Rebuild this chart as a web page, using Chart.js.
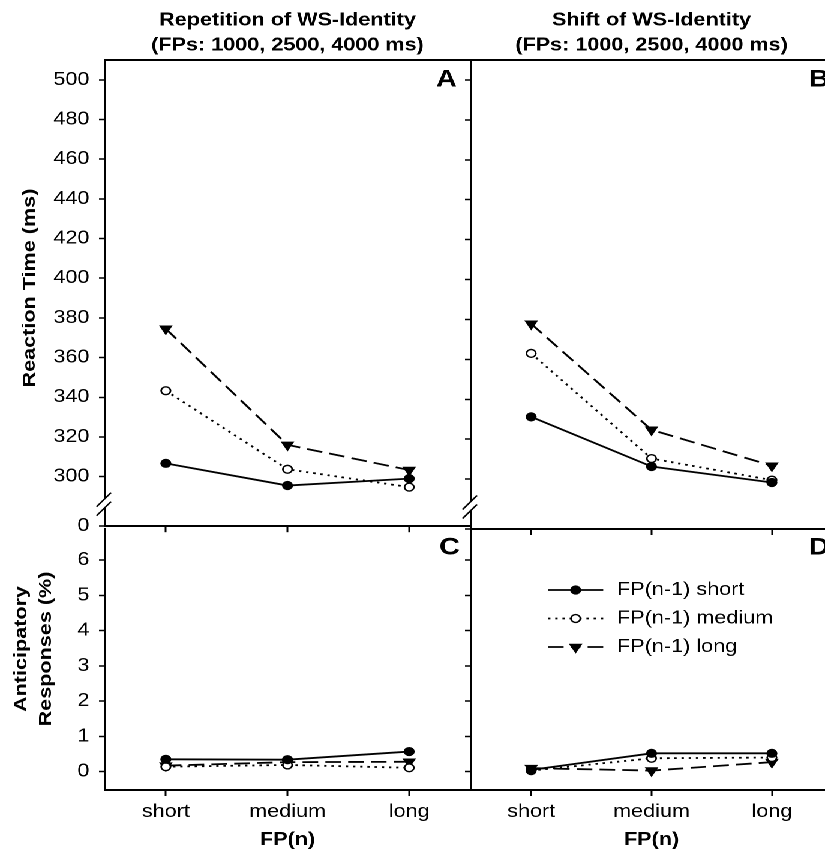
<!DOCTYPE html>
<html>
<head>
<meta charset="utf-8">
<title>Reaction time and anticipatory responses by FP</title>
<script src="https://cdn.jsdelivr.net/npm/chart.js@4.4.1/dist/chart.umd.min.js"></script>
<style>
  html, body { margin: 0; padding: 0; overflow: hidden; background: #fff; }
  /* the original figure is stretched sideways, so lay it out narrow and widen it */
  #figure { position: relative; width: 688px; height: 853px; transform: scaleX(1.2); transform-origin: 0 0; }
  #figure canvas { position: absolute; }
</style>
</head>
<body>
<div id="figure">
  <canvas id="panelA" width="400" height="545" style="left:0;top:0"></canvas>
  <canvas id="panelB" width="400" height="545" style="left:300px;top:0"></canvas>
  <canvas id="panelC" width="400" height="353" style="left:0;top:500px"></canvas>
  <canvas id="panelD" width="400" height="353" style="left:300px;top:500px"></canvas>
</div>
<script>
const fpLabels = ["short", "medium", "long"];
const seriesLabels = ["FP(n-1) short", "FP(n-1) medium", "FP(n-1) long"];

// Reaction time (ms), repetition of WS-identity
const rtRepShort = [306.7, 295.5, 299.0];
const rtRepMedium = [343.3, 303.7, 294.7];
const rtRepLong = [374.5, 316.0, 303.3];

// Reaction time (ms), shift of WS-identity
const rtShiftShort = [331.2, 306.3, 298.3];
const rtShiftMedium = [363.0, 310.3, 299.5];
const rtShiftLong = [377.8, 324.7, 306.7];

// Anticipatory responses (%), repetition of WS-identity
const arRepShort = [0.35, 0.34, 0.57];
const arRepMedium = [0.14, 0.19, 0.11];
const arRepLong = [0.17, 0.27, 0.28];

// Anticipatory responses (%), shift of WS-identity
const arShiftShort = [0.05, 0.52, 0.52];
const arShiftMedium = [0.03, 0.38, 0.40];
const arShiftLong = [0.10, 0.03, 0.27];

// tick labels
const rtTicks = [300, 320, 340, 360, 380, 400, 420, 440, 460, 480, 500];
const rtBreakValue = 275; // RT axis is broken below 300, its bottom is labelled 0
const arTicks = [0, 1, 2, 3, 4, 5, 6];

const FONT = '"Liberation Sans", Arial, Helvetica, sans-serif';
const STRETCH = 1.2; // same as the scaleX on #figure
Chart.defaults.font.family = FONT;
Chart.defaults.color = "#000";

const seriesStyles = [
  { borderDash: [], pointStyle: "circle", pointRadius: 3.9, pointRotation: 0, pointBackgroundColor: "#000" },
  { borderDash: [2, 4], pointStyle: "circle", pointRadius: 3.9, pointRotation: 0, pointBackgroundColor: "#fff" },
  { borderDash: [13, 6], pointStyle: "triangle", pointRadius: 5.2, pointRotation: 180, pointBackgroundColor: "#000" },
];

function buildDatasets(series) {
  return series.map((data, i) => ({
    label: seriesLabels[i],
    data,
    borderColor: "#000",
    borderWidth: 1.8,
    pointBorderColor: "#000",
    pointBorderWidth: 1.4,
    pointHoverRadius: seriesStyles[i].pointRadius,
    tension: 0,
    ...seriesStyles[i],
  }));
}

// panel letters, rotated y titles, axis break marks and the legend inside panel D
const figureMarks = {
  id: "figureMarks",
  afterDraw(chart, args, opts) {
    const { ctx, chartArea: area } = chart;
    ctx.save();
    ctx.fillStyle = "#000";

    if (opts.tag) {
      ctx.font = "bold 24px " + FONT;
      ctx.textAlign = "right";
      ctx.textBaseline = "middle";
      ctx.fillText(opts.tag, area.right - opts.tagRight, area.top + opts.tagTop);
    }

    if (opts.yTitle) {
      // rotated text: stretch along the reading direction, not across it
      const t = opts.yTitle;
      ctx.font = "bold 18px " + FONT;
      ctx.textAlign = "center";
      ctx.textBaseline = "middle";
      t.lines.forEach((line, i) => {
        ctx.save();
        ctx.translate(t.x[i], area.top + t.centerY);
        ctx.rotate(-Math.PI / 2);
        ctx.scale(STRETCH, 1 / STRETCH);
        ctx.fillText(line, 0, 0);
        ctx.restore();
      });
    }

    if (opts.axisBreak) {
      const x = area.left - 1;
      const y = area.bottom - 22;
      ctx.fillStyle = "#fff";
      ctx.beginPath();
      ctx.moveTo(x - 6, y + 2.5);
      ctx.lineTo(x + 6, y - 11.5);
      ctx.lineTo(x + 6, y - 2.5);
      ctx.lineTo(x - 6, y + 11.5);
      ctx.closePath();
      ctx.fill();
      ctx.strokeStyle = "#000";
      ctx.lineWidth = 1.4;
      [-4.5, 4.5].forEach((dy) => {
        ctx.beginPath();
        ctx.moveTo(x - 6, y + dy + 7);
        ctx.lineTo(x + 6, y + dy - 7);
        ctx.stroke();
      });
    }

    if (opts.legend) {
      const lg = opts.legend;
      chart.data.datasets.forEach((ds, i) => {
        const y = area.top + lg.top + i * lg.gap;
        const x0 = area.left + lg.left;
        const xc = x0 + lg.lineLength / 2;
        const x1 = x0 + lg.lineLength;
        ctx.strokeStyle = "#000";
        ctx.lineWidth = ds.borderWidth;
        ctx.setLineDash(ds.borderDash);
        [[x0, xc], [x1, xc]].forEach(([a, b]) => {
          ctx.beginPath();
          ctx.moveTo(a, y);
          ctx.lineTo(b, y);
          ctx.stroke();
        });
        ctx.setLineDash([]);
        ctx.fillStyle = ds.pointBackgroundColor;
        ctx.lineWidth = ds.pointBorderWidth;
        Chart.helpers.drawPoint(ctx, {
          pointStyle: ds.pointStyle,
          rotation: ds.pointRotation,
          radius: ds.pointRadius,
          borderWidth: ds.pointBorderWidth,
        }, xc, y);
        ctx.fillStyle = "#000";
        ctx.font = "18px " + FONT;
        ctx.textAlign = "left";
        ctx.textBaseline = "middle";
        ctx.fillText(ds.label, area.left + lg.textLeft, y);
      });
    }
    ctx.restore();
  },
};

const tickGrid = { drawOnChartArea: false, drawTicks: true, tickLength: 5, tickColor: "#000", tickWidth: 1.5 };
const axisBorder = { display: true, color: "#000", width: 2 };

function xScales(bottomRow) {
  const scales = {
    x: {
      type: "category",
      labels: fpLabels,
      offset: true,
      grid: { ...tickGrid, tickLength: 6 },
      border: axisBorder,
      ticks: { display: bottomRow, font: { size: 18 }, padding: 5, autoSkip: false, maxRotation: 0 },
      title: {
        display: bottomRow,
        text: "FP(n)",
        font: { size: 18, weight: "bold" },
        padding: { top: 0, bottom: 2 },
      },
      afterFit: (s) => { s.height = bottomRow ? 63 : 0; },
    },
  };
  if (!bottomRow) {
    // top frame line of the upper panels
    scales.x2 = {
      type: "category",
      labels: fpLabels,
      offset: true,
      position: "top",
      grid: { display: false },
      border: axisBorder,
      ticks: { display: false },
      afterFit: (s) => { s.height = 0; },
    };
  }
  return scales;
}

function rtScale(showLabels, axisWidth) {
  return {
    type: "linear",
    min: rtBreakValue,
    max: 510,
    afterBuildTicks: (s) => { s.ticks = [rtBreakValue, ...rtTicks].map((value) => ({ value })); },
    ticks: {
      display: showLabels,
      font: { size: 18 },
      padding: 8,
      autoSkip: false,
      callback: (v) => (v === rtBreakValue ? "0" : v),
    },
    grid: tickGrid,
    border: axisBorder,
    afterFit: (s) => { s.width = axisWidth; },
  };
}

function arScale(showLabels, axisWidth) {
  return {
    type: "linear",
    min: -0.52,
    max: 6.88,
    afterBuildTicks: (s) => { s.ticks = arTicks.map((value) => ({ value })); },
    ticks: { display: showLabels, font: { size: 18 }, padding: 8, autoSkip: false },
    grid: tickGrid,
    border: axisBorder,
    afterFit: (s) => { s.width = axisWidth; },
  };
}

function makePanel(canvasId, cfg) {
  return new Chart(document.getElementById(canvasId), {
    type: "line",
    data: { labels: fpLabels, datasets: buildDatasets(cfg.series) },
    plugins: [figureMarks],
    options: {
      responsive: false,
      animation: false,
      devicePixelRatio: 2,
      layout: { padding: cfg.padding },
      scales: { ...xScales(cfg.bottomRow), y: cfg.y },
      plugins: {
        legend: { display: false },
        tooltip: { enabled: false },
        title: {
          display: !!cfg.title,
          text: cfg.title,
          fullSize: false,
          font: { size: 18, weight: "bold", lineHeight: 1.39 },
          padding: { top: 8, bottom: 2 },
        },
        figureMarks: cfg.marks,
      },
    },
  });
}

makePanel("panelA", {
  series: [rtRepShort, rtRepMedium, rtRepLong],
  title: ["Repetition of WS-Identity", "(FPs: 1000, 2500, 4000 ms)"],
  bottomRow: false,
  padding: { left: 0, right: 8.3, top: 0, bottom: 16 },
  y: rtScale(true, 87.5),
  marks: {
    tag: "A", tagRight: 11, tagTop: 20, axisBreak: true,
    yTitle: { lines: ["Reaction Time (ms)"], x: [25], centerY: 228 },
  },
});

makePanel("panelB", {
  series: [rtShiftShort, rtShiftMedium, rtShiftLong],
  title: ["Shift of WS-Identity", "(FPs: 1000, 2500, 4000 ms)"],
  bottomRow: false,
  padding: { left: 0, right: 3.3, top: 0, bottom: 16 },
  y: rtScale(false, 92.5),
  marks: { tag: "B", tagRight: 2.2, tagTop: 20, axisBreak: true },
});

makePanel("panelC", {
  series: [arRepShort, arRepMedium, arRepLong],
  bottomRow: true,
  padding: { left: 0, right: 8.3, top: 29, bottom: 0 },
  y: arScale(true, 87.5),
  marks: {
    tag: "C", tagRight: 8.4, tagTop: 19,
    yTitle: { lines: ["Anticipatory", "Responses (%)"], x: [18, 38.3], centerY: 120 },
  },
});

makePanel("panelD", {
  series: [arShiftShort, arShiftMedium, arShiftLong],
  bottomRow: true,
  padding: { left: 0, right: 3.3, top: 29, bottom: 0 },
  y: arScale(false, 92.5),
  marks: {
    tag: "D", tagRight: 2.2, tagTop: 19,
    legend: { left: 64.2, top: 61, gap: 28.5, lineLength: 46, textLeft: 121.7 },
  },
});
</script>
</body>
</html>
